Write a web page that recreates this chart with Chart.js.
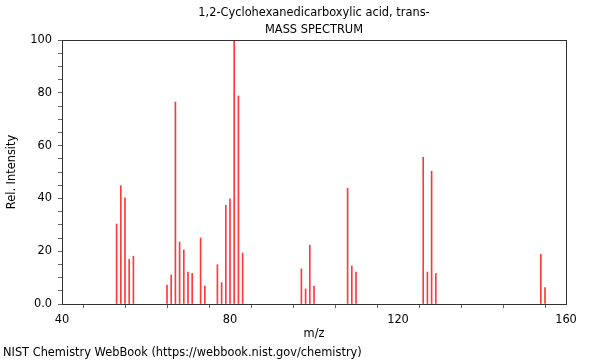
<!DOCTYPE html>
<html>
<head>
<meta charset="utf-8">
<script src="https://cdn.jsdelivr.net/npm/chart.js@4"></script>
<style>
  html, body { margin: 0; padding: 0; background: #fff; }
  #wrap { width: 600px; height: 360px; }
</style>
</head>
<body>
<div id="wrap"><canvas id="spectrum"></canvas></div>
<script>
  const titleLines = ['1,2-Cyclohexanedicarboxylic acid, trans-', 'MASS SPECTRUM'];
  const xLabel = 'm/z';
  const yLabel = 'Rel. Intensity';
  const footer = 'NIST Chemistry WebBook (https://webbook.nist.gov/chemistry)';

  const mz = [53, 54, 55, 56, 57, 65, 66, 67, 68, 69, 70, 71, 73, 74, 77, 78, 79, 80, 81, 82, 83,
    97, 98, 99, 100, 108, 109, 110, 126, 127, 128, 129, 154, 155];
  const intensity = [30.3, 44.8, 40.2, 16.9, 18.1, 7.2, 11.0, 76.5, 23.5, 20.5, 12.1, 11.6, 25.0, 6.8,
    14.9, 8.1, 37.4, 39.8, 100, 78.8, 19.3, 13.3, 5.7, 22.3, 6.8, 43.8, 14.4, 12.1, 55.6, 12.1, 50.3,
    11.6, 18.8, 6.2];

  const xLabeled = [40, 80, 120, 160];
  const yLabeled = [0, 20, 40, 60, 80, 100];

  const font = "'DejaVu Sans', sans-serif";
  const fontSize = 11.4;

  // titles, axis names, footer and the frame round the plot
  const decorations = {
    id: 'decorations',
    afterDraw(chart) {
      const ctx = chart.ctx;
      const a = chart.chartArea;
      const cx = (a.left + a.right) / 2;
      ctx.save();
      ctx.strokeStyle = '#333';
      ctx.lineWidth = 1;
      ctx.strokeRect(a.left + 0.5, a.top + 0.5, a.right - a.left, a.bottom - a.top);
      ctx.fillStyle = '#000';
      ctx.font = fontSize + 'px ' + font;
      ctx.textAlign = 'center';
      ctx.textBaseline = 'middle';
      ctx.fillText(titleLines[0], cx, 13);
      ctx.fillText(titleLines[1], cx, 30);
      ctx.fillText(xLabel, cx, 334);
      ctx.textAlign = 'left';
      ctx.fillText(footer, 3, 353);
      ctx.translate(12, (a.top + a.bottom) / 2);
      ctx.rotate(-Math.PI / 2);
      ctx.textAlign = 'center';
      ctx.fillText(yLabel, 0, 0);
      ctx.restore();
    }
  };

  const data = {
    datasets: [{
      data: mz.map((m, i) => ({ x: m, y: intensity[i] })),
      backgroundColor: '#ff3838',
      barThickness: 1,
      borderWidth: 0
    }]
  };

  const config = {
    type: 'bar',
    data: data,
    options: {
      responsive: true,
      maintainAspectRatio: false,
      animation: false,
      layout: {
        padding: { left: 0, right: 34, top: 40, bottom: 0 }
      },
      plugins: {
        legend: { display: false },
        tooltip: { enabled: false },
        title: { display: false }
      },
      scales: {
        x: {
          type: 'linear',
          min: 40,
          max: 160,
          offset: false,
          afterFit: (s) => { s.height = 56; },
          border: { display: true, color: '#333' },
          grid: {
            display: true,
            drawOnChartArea: false,
            drawTicks: true,
            tickLength: 4,
            tickColor: '#666'
          },
          ticks: {
            stepSize: 10,
            autoSkip: false,
            maxRotation: 0,
            color: '#000',
            padding: 5,
            font: { family: font, size: fontSize },
            callback: (v) => xLabeled.includes(v) ? String(v) : ''
          }
        },
        y: {
          min: 0,
          max: 100,
          afterFit: (s) => { s.width = 62; },
          border: { display: true, color: '#333' },
          grid: {
            display: true,
            drawOnChartArea: false,
            drawTicks: true,
            tickLength: 4,
            tickColor: '#666'
          },
          ticks: {
            stepSize: 5,
            autoSkip: false,
            color: '#000',
            padding: 6,
            font: { family: font, size: fontSize },
            callback: (v) => v === 0 ? '0.0' : (yLabeled.includes(v) ? String(v) : '')
          }
        }
      }
    },
    plugins: [decorations]
  };

  const myChart = new Chart(document.getElementById('spectrum'), config);
</script>
</body>
</html>
